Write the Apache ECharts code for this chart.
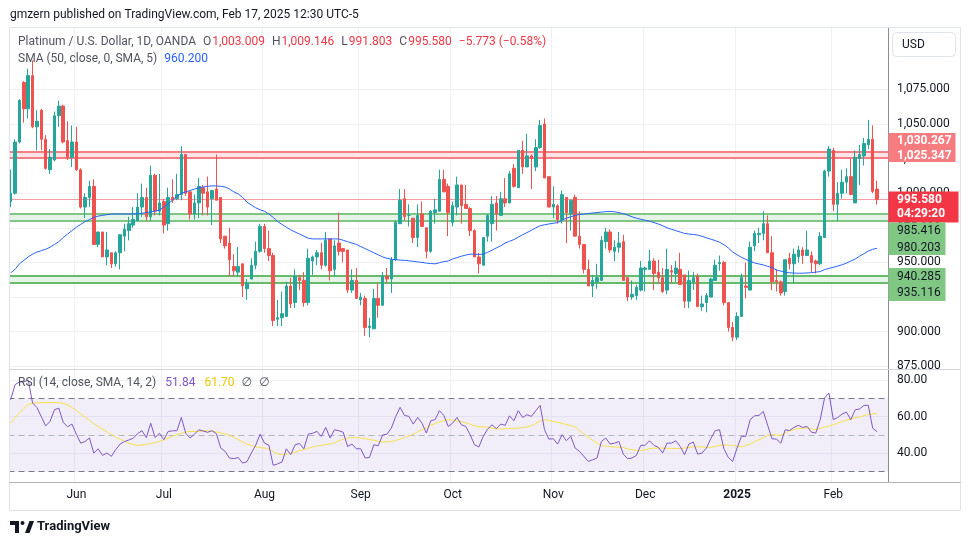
<!DOCTYPE html>
<html><head><meta charset="utf-8">
<script src="https://cdn.jsdelivr.net/npm/echarts@6/dist/echarts.min.js"></script>
<style>html,body{margin:0;padding:0;background:#fff}#c{width:970px;height:545px}</style>
</head><body><div id="c"></div>
<script>
// ---------- DATA ----------
const opens=[994,1000,1037,1080,1061,1085,1048,1060,1039,1017,1024,1056,1063,1038,1026,1037,1017,990,997,1005,963,972,954,957,949,
957,969,973,977,980,990,997,983,1013,987,994,978,997,996,999,1028,1001,985,993,1004,1001,996,1003,997,969,
964,947,943,949,931,938,948,958,976,960,955,909,910,911,933,921,939,937,921,951,954,957,948,967,945,
964,960,959,930,937,923,924,903,902,924,919,940,938,952,978,996,984,982,968,985,975,958,986,987,1010,
1005,979,990,1006,992,989,973,954,948,969,978,993,984,996,993,1018,1004,1031,1019,1027,1019,1033,1050,1012,990,
991,981,997,985,997,969,963,945,933,936,937,965,972,958,961,965,939,925,926,930,945,945,951,943,939,
930,944,942,945,941,922,936,940,918,921,925,937,949,950,921,903,896,911,933,930,962,970,971,978,957,
937,936,929,953,949,954,959,955,955,951,949,968,1016,1031,992,1000,1008,1012,993,1025,1027,1035,1039,1003.009];
const highs=[1017,1039,1068,1081,1090,1096,1060,1061,1042,1032,1059,1067,1064,1052,1049,1048,1018,1000,1009,1010,972,972,972,957,958,
970,978,983,990,1000,1007,1004,1020,1014,1014,996,1004,1010,1014,1034,1028,1001,999,1011,1006,1012,1002,1028,997,969,
975,956,961,949,938,953,965,978,978,973,957,923,929,936,939,945,941,943,960,955,959,964,972,967,966,
986,960,959,945,946,928,926,910,931,935,943,946,954,980,1003,1003,992,982,992,994,975,988,996,1017,1017,
1007,994,1012,1006,1006,990,974,957,968,985,998,998,1001,1011,1016,1021,1031,1038,1043,1028,1039,1053,1054,1012,1005,
992,1002,997,995,999,987,963,952,941,949,969,975,974,966,972,970,939,937,934,951,947,959,953,952,946,
960,948,951,957,941,944,943,942,926,928,939,952,955,951,921,907,914,942,950,965,973,975,987,984,969,
945,937,952,957,960,962,961,973,958,952,972,1017,1034,1033,1008,1017,1018,1025,1031,1035,1040,1053,1049,1009.146];
const lows=[990,999,1036,1051,1054,1047,1031,1031,1017,1014,1023,1048,1036,1024,1019,1016,989,982,990,963,961,954,948,946,947,
945,958,966,975,980,983,980,980,984,984,971,973,993,995,995,998,981,981,982,984,984,977,995,964,960,
940,940,940,925,923,938,945,957,957,951,904,904,904,911,917,917,930,918,919,941,948,945,947,937,940,
955,950,928,928,924,919,897,896,902,910,919,935,928,951,978,980,976,964,961,976,953,957,978,987,1001,
969,976,984,978,989,969,954,942,948,965,965,973,984,990,993,1004,1004,1014,1019,1003,1016,1032,1011,990,982,
978,978,964,973,969,960,942,933,925,931,937,960,957,951,957,937,922,923,923,929,929,945,930,935,928,
927,935,936,934,917,917,930,918,915,914,925,937,944,919,900,893,894,911,924,930,958,964,966,957,930,
929,926,926,945,935,950,949,955,943,942,948,968,1012,987,980,996,1000,999,993,1006,1020,1032,1000,991.803];
const closes=[1000,1037,1067,1061,1085,1048,1052,1039,1018,1026,1056,1063,1037,1026,1037,1017,990,997,1005,963,972,954,959,949,957,
970,974,978,981,990,997,983,1013,987,993,977,997,995,999,1028,1000,985,993,1005,1000,990,1002,995,967,962,
952,944,947,933,935,948,958,976,960,955,908,910,913,933,920,940,937,921,953,954,957,948,966,944,962,
958,958,930,937,924,925,903,904,924,919,940,938,952,979,995,983,984,968,984,976,958,987,988,1010,1001,
986,991,1006,991,989,973,954,949,968,984,992,985,996,993,1014,1005,1031,1019,1027,1025,1033,1049,1011,990,992,
981,999,986,995,969,963,945,933,937,939,966,972,959,961,964,937,925,927,932,946,946,951,942,939,929,
945,943,946,934,922,937,939,918,920,926,938,948,950,921,903,896,911,939,932,961,971,971,978,957,936,
936,928,952,949,956,959,955,959,950,949,969,1016,1032,992,1000,1008,1012,999,1026,1028,1036,1039,1001.353,995.58];
const sma50=[942.5,945,949,951.5,954,956,957.5,958.5,959.5,961,963,965,968,970.5,973,975.5,977.5,979.5,981,982.5,983.5,984,984.5,985,985,
985,985,985,985,985.2,985.5,986,986.5,987,988,990,992.5,995,998,1000,1001,1002,1003,1004,1004.5,1005,1005.3,1005.3,1005,1004.5,
1003,1001,999.5,997,993.5,991.5,989.5,988,987,985,982.5,979.5,977.5,975.5,973.5,972,970.5,969,967.5,967,967,967,967,967,967,
967,966,965,964,963,961.5,960,958.5,957,955.5,954,953,952.3,952,951.7,951.5,951.2,950.8,950.4,950,949.5,949.2,949,949.8,950.6,
951,952.5,953.5,954.5,955.3,956,956,955.8,956,957.3,958.8,960.5,962,964,965.3,966.5,968.3,970,971.6,973.2,975,976.5,977.2,977.8,978.3,
978.8,980.5,982,983,984,984.6,985,985.4,985.7,986,986.4,986.7,986.8,986.6,986,985.2,984.2,983,982,981.2,980.5,979.8,978.8,977.8,976.5,
975,974,973,972,971,970.5,970.2,969.8,968.9,967.8,966.8,965.8,964.6,962.8,960.5,957.5,955.6,953.7,952.2,950.9,949.6,948.9,948.2,947.1,946.4,
944.5,943.8,943,942.5,942.3,942.2,942.2,942.4,942.6,943,943.4,944.8,945.7,946.5,947.4,948.3,949.5,951,952.5,954.5,956.3,958.2,959.5,960.2];
const rsi=[69.3,77.5,79,79,80,67.5,65,60,55,57.5,63.8,64.7,57,54.5,56,50.5,45.6,46.5,48.4,40.2,42.5,38.9,40.2,38.4,42,
45.1,46.5,47.3,48.3,50.8,52.4,48.6,56.5,48.7,51,47.5,52,52.3,52.4,59.6,51,48.4,50.5,52.9,52.2,51.5,52.4,50.8,43,41.1,
37.5,37.1,37.8,34.7,35.5,40.2,44.5,50.5,45.6,44.5,33.5,34.3,35.3,42.5,39.3,44.7,45.4,42.5,50.5,51,52,49.3,54.2,48.4,52.9,
52.4,51.5,43.8,45.1,42.5,42.5,37.5,37.8,44.7,44.2,50,50.5,53.8,60.2,65.1,60.7,60.2,56,59.6,56.5,51.1,57.8,58.4,63.3,60.7,
54.7,56.5,59.6,55.6,54.7,50.2,44.7,43.5,49.3,53.3,55.6,53.5,56,55.3,60.5,57.8,63.3,59.6,61.1,60.2,63.3,66.2,52.9,47.8,48,
45.1,50.2,46.9,49.3,42.9,41.1,38.4,35.6,36.5,37.5,46.5,48.4,45.1,45.6,46.5,39.6,37.1,37.5,38.9,44.4,44.4,46.9,44.4,43.3,40.2,
45.6,45.6,46.9,43.8,39.3,45.1,46.2,39.6,40.2,42.9,48,52.4,52.9,42.5,37.8,35.6,42.9,49.3,49.3,58.4,60.5,60.7,62.9,55.3,48,
47.8,45.6,52.9,52.5,54.2,55.3,54.2,54.7,51.6,51.1,58.4,70.2,72.9,58.4,59.6,61.5,62.5,58.4,63.8,64.2,66.2,66.2,53.8,51.84];
const rsiMa=[56.5,59.5,62,64.5,66.8,67.3,67.6,67.7,67.8,67.8,67.8,67.7,67.2,66.5,65,63.5,61.5,59.8,58,56.3,54.7,53.3,51.8,50.4,48.9,
47.8,46.6,45.5,44.9,44.4,44.6,45,45.3,45.9,46.6,47.4,48.4,49.4,50.3,51,51.7,52,52,52,52.2,52.4,52.1,51.7,51.2,50.6,
50,48.8,47.5,46.3,45,44.3,43.6,43.2,42.9,42.3,41,39.8,39.3,39.5,40.1,40.7,41.5,42.1,42.7,43.5,44,44.4,44.8,45.1,45.8,
46.9,47.7,48.3,48.7,48.6,48.4,48,47.6,47.2,46.6,46.2,46.3,46.5,47.1,47.8,48.6,49.5,50.4,51.7,52.9,54.1,55.3,56.3,57.2,57.9,
58.4,58.1,57.7,57.2,56.7,56,55,54.6,54.4,54.2,53.8,53.4,53.3,53.4,53.6,53.7,53.8,54.1,54.4,55.2,56.3,57.6,58.4,58,57.4,
56.9,56.4,55.8,55.2,54.4,52.5,50.7,48.8,47.2,45.6,44.3,44,43.7,43.5,43.4,43.2,42.5,42,41.7,41.5,41.9,42.6,42.9,42.9,42.9,
42.8,42.7,42.7,42.7,42.9,43.3,43.6,43.6,43.5,43.4,43.3,43.8,44.4,44.6,44.5,44.3,43.9,43.5,44.3,45.2,46.3,47.4,48.5,49.9,50.2,
50.1,49.8,51.2,52.3,53,53.5,53.7,53.8,53.4,52.9,53.6,54.4,54.9,55.6,56.6,57.4,58.1,58.7,59.4,59.9,60.6,61.2,61.6,61.7];
const redZone=[1025.347,1030.267];
const greenZoneHigh=[980.203,985.416];
const greenZoneLow=[935.116,940.285];
const lastPrice=995.58;
const priceTicks=[875,900,925,950,975,1000,1025,1050,1075];
const rsiTicks=[40,60,80];
const rsiBand=[30,70];
const monthKeys=['06','07','08','09','10','11','12','01','02'];
const monthTicks=['Jun','Jul','Aug','Sep','Oct','Nov','Dec','2025','Feb'];
const holidays=['2024-12-25','2025-01-01'];

// ---------- categories (trading days + 2 empty slots on the right) ----------
const dates=[];
for(let t=Date.UTC(2024,4,13);t<=Date.UTC(2025,1,19);t+=86400000){
  const d=new Date(t),wd=d.getUTCDay(),s=d.toISOString().slice(0,10);
  if(wd===0||wd===6||holidays.includes(s))continue;
  dates.push(s);
}
const monthStart=dates.map((d,i)=>i>0&&d.slice(5,7)!==dates[i-1].slice(5,7));
const monthLabel={};monthKeys.forEach((k,i)=>monthLabel[k]=monthTicks[i]);
const ohlc=opens.map((o,i)=>[o,closes[i],lows[i],highs[i]]);
const fmt3=v=>v.toLocaleString('en-US',{minimumFractionDigits:3,maximumFractionDigits:3});
const n=closes.length;
const chg=closes[n-1]-closes[n-2];
const pct=chg/closes[n-2]*100;
const minus=v=>(v<0?'\u2212':'+')+Math.abs(v);

const FONT='Roboto, "Noto Sans", "DejaVu Sans", sans-serif';
const UP='#26a69a',DN='#ef5350';

function xAx(g,show){
  return {type:'category',gridIndex:g,data:dates,boundaryGap:true,
    axisLine:{show:false},axisTick:{show:false},
    axisLabel:{show:show,interval:(i)=>monthStart[i],color:'#131722',fontSize:12,margin:7,fontFamily:FONT,
      formatter:(v)=>{const l=monthLabel[v.slice(5,7)];return l==='2025'?'{b|'+l+'}':l;},
      rich:{b:{fontWeight:'bold',fontSize:12,color:'#131722',fontFamily:FONT}}},
    splitLine:{show:true,interval:(i)=>monthStart[i],lineStyle:{color:'#eef0f6',width:1}}};
}

const chart=echarts.init(document.getElementById('c'),null,{renderer:'canvas'});
const G=[];
const font=(s,w)=>(w||'normal')+' '+s+'px '+FONT;
function txt(x,y,t,color,size,weight){G.push({type:'text',x:x,y:y,z:110,style:{text:t,fill:color,font:font(size||12,weight),textVerticalAlign:'middle'}});}
function rich(x,y,t,r){G.push({type:'text',x:x,y:y,z:110,style:{text:t,rich:r,textVerticalAlign:'middle',font:font(12)}});}
function rect(x,y,w,h,fill,stroke,z,r){G.push({type:'rect',z:z||100,shape:{x:x,y:y,width:w,height:h,r:r||0},style:{fill:fill||'none',stroke:stroke||null,lineWidth:1}});}

// frame and separators
rect(0,28,9.5,455,'#fff',null,90);
rect(9.5,27.5,951,483,'none','#e0e3eb',95);
G.push({type:'line',z:96,shape:{x1:9.5,y1:369.5,x2:960.5,y2:369.5},style:{stroke:'#d1d4dc',lineWidth:1}});
G.push({type:'line',z:96,shape:{x1:9.5,y1:482.5,x2:960.5,y2:482.5},style:{stroke:'#b2b5be',lineWidth:1}});
rect(889,370,70,3.5,'#fff',null,97);
// header
txt(10,15,'gmzern published on TradingView.com, Feb 17, 2025 12:30 UTC-5','#131722',12);
// legend price
const G1='#50535e',R='#f23645';
const RS={
  t:{fill:G1,font:font(12)},
  k:{fill:G1,font:font(12),padding:[0,1,0,7]},
  v:{fill:R,font:font(12)},
  c:{fill:R,font:font(12),padding:[0,0,0,7]},
  b:{fill:'#2962ff',font:font(12),padding:[0,0,0,7]},
  p:{fill:'#7e57c2',font:font(12),padding:[0,0,0,9]},
  y:{fill:'#e8c900',font:font(12),padding:[0,0,0,9]},
  n:{fill:G1,font:font(12),padding:[0,0,0,7]}
};
rich(18,42,'{t|Platinum / U.S. Dollar, 1D, OANDA}{k|O}{v|'+fmt3(opens[n-1])+'}{k|H}{v|'+fmt3(highs[n-1])+'}{k|L}{v|'+fmt3(lows[n-1])+'}{k|C}{v|'+fmt3(closes[n-1])+'}{c|'+minus(+chg.toFixed(3))+' ('+minus(+pct.toFixed(2))+'%)}',RS);
rich(18,59,'{t|SMA (50, close, 0, SMA, 5)}{b|'+fmt3(sma50[n-1])+'}',RS);
rich(18,383,'{t|RSI (14, close, SMA, 14, 2)}{p|'+rsi[n-1].toFixed(2)+'}{y|'+rsiMa[n-1].toFixed(2)+'}{n|\u2205}{n|\u2205}',RS);
// USD box
rect(892.5,32.5,63,24,'#fff','#e0e3eb',100,4);
txt(902,44.5,'USD','#131722',12);
// axis price labels
rect(888.5,133,67,29,'#f77c80',null,100);
txt(897,140.5,fmt3(redZone[1]),'#fff',12,'bold');
txt(897,155.5,fmt3(redZone[0]),'#fff',12,'bold');
rect(888.5,191.5,70,31,'#f23645',null,100);
txt(897,200,fmt3(lastPrice),'#fff',12,'bold');
txt(897,214,'04:29:20','#fff',12,'bold');
rect(888.5,222.5,57,32.5,'#81c784',null,100);
txt(897,230.5,fmt3(greenZoneHigh[1]),'#131722',12);
txt(897,247.5,fmt3(greenZoneHigh[0]),'#131722',12);
rect(888.5,268,57,33,'#81c784',null,100);
txt(897,277,fmt3(greenZoneLow[1]),'#131722',12);
txt(897,293,fmt3(greenZoneLow[0]),'#131722',12);
// logo
G.push({type:'polygon',z:110,shape:{points:[[10,521],[19,521],[19,533],[15,533],[15,525],[10,525]]},style:{fill:'#131722'}});
G.push({type:'circle',z:110,shape:{cx:22.5,cy:523,r:2},style:{fill:'#131722'}});
G.push({type:'polygon',z:110,shape:{points:[[25,533],[29.5,521],[34,521],[29.5,533]]},style:{fill:'#131722'}});
txt(37,527,'TradingView','#131722',13,'bold');

const zoneLine=(v,c)=>({yAxis:v,lineStyle:{color:c,width:2,type:'solid'}});
const option={
  animation:false,
  textStyle:{fontFamily:FONT},
  grid:[{left:8.5,top:28,width:879.5,height:341},{left:8.5,top:370,width:879.5,height:112}],
  xAxis:[xAx(0,false),xAx(1,true)],
  yAxis:[
    {type:'value',gridIndex:0,position:'right',min:873,max:1119.4,scale:true,
      axisLine:{show:true,lineStyle:{color:'#8a8d96'}},
      axisTick:{show:false,customValues:priceTicks},
      axisLabel:{customValues:priceTicks,formatter:v=>fmt3(v),color:'#131722',fontSize:12,margin:9,fontFamily:FONT},
      splitLine:{show:true,lineStyle:{color:'#eef0f6'}}},
    {type:'value',gridIndex:1,position:'right',min:24.4,max:85.5,
      axisLine:{show:true,lineStyle:{color:'#8a8d96'}},
      axisTick:{show:false,customValues:rsiTicks},
      axisLabel:{customValues:rsiTicks,formatter:v=>v.toFixed(2),color:'#131722',fontSize:12,margin:9,fontFamily:FONT},
      splitLine:{show:true,lineStyle:{color:'#eef0f6'}}}
  ],
  graphic:G,
  series:[
    {type:'candlestick',xAxisIndex:0,yAxisIndex:0,data:ohlc,barWidth:3,z:2,
      itemStyle:{color:UP,color0:DN,borderColor:UP,borderColor0:DN,borderWidth:1},
      markArea:{silent:true,z:1,data:[
        [{yAxis:redZone[0],itemStyle:{color:'#fde4e6'}},{yAxis:redZone[1]}],
        [{yAxis:greenZoneHigh[0],itemStyle:{color:'#e6f4e7'}},{yAxis:greenZoneHigh[1]}],
        [{yAxis:greenZoneLow[0],itemStyle:{color:'#e6f4e7'}},{yAxis:greenZoneLow[1]}]]},
      markLine:{silent:true,z:1,symbol:['none','none'],label:{show:false},data:[
        zoneLine(redZone[0],'#f47e83'),zoneLine(redZone[1],'#f47e83'),
        zoneLine(greenZoneHigh[0],'#7fc583'),zoneLine(greenZoneHigh[1],'#7fc583'),
        zoneLine(greenZoneLow[0],'#66bb6a'),zoneLine(greenZoneLow[1],'#66bb6a'),
        {yAxis:lastPrice,lineStyle:{color:'#f23645',width:1,type:'dotted'}}]}},
    {type:'line',xAxisIndex:0,yAxisIndex:0,data:sma50,showSymbol:false,z:3,
      lineStyle:{color:'#2962ff',width:1}},
    {type:'line',xAxisIndex:1,yAxisIndex:1,data:rsi,showSymbol:false,z:3,
      lineStyle:{color:'#7e57c2',width:1},
      markArea:{silent:true,z:1,data:[[{yAxis:rsiBand[0],itemStyle:{color:'rgba(126,87,194,0.1)'}},{yAxis:rsiBand[1]}]]},
      markLine:{silent:true,z:2,symbol:['none','none'],label:{show:false},data:[
        {yAxis:rsiBand[1],lineStyle:{color:'#787b86',width:1,type:[6,4]}},
        {yAxis:50,lineStyle:{color:'#b2b5be',width:1,type:[6,4]}},
        {yAxis:rsiBand[0],lineStyle:{color:'#787b86',width:1,type:[6,4]}}]}},
    {type:'line',xAxisIndex:1,yAxisIndex:1,data:rsiMa,showSymbol:false,z:2,
      lineStyle:{color:'#f7e04a',width:1}}
  ]
};
chart.setOption(option);
</script></body></html>
